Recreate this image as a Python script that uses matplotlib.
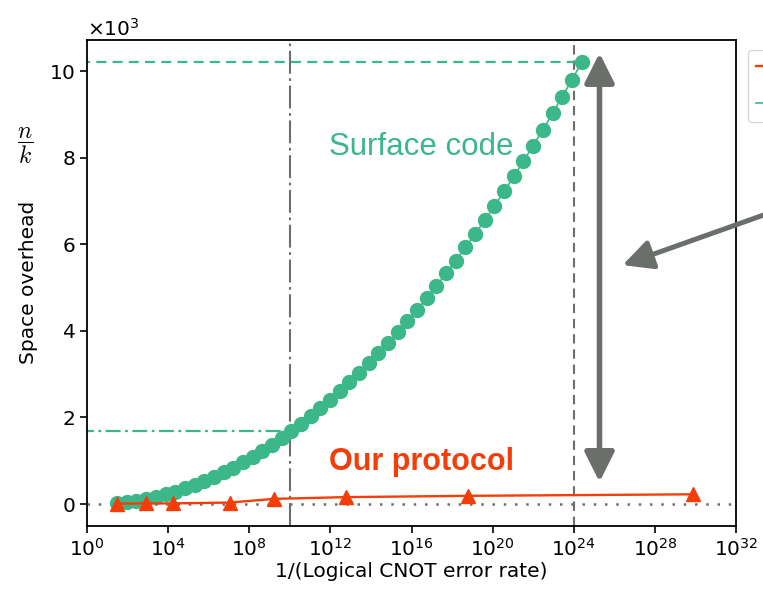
import matplotlib.pyplot as plt
import matplotlib.ticker as mticker
import numpy as np

# surface code: log10(1/error) and n/k
surf_logx = [1.49, 1.97, 2.44, 2.92, 3.40, 3.88, 4.35, 4.83, 5.31, 5.78,
             6.26, 6.74, 7.21, 7.69, 8.17, 8.65, 9.12, 9.60, 10.08, 10.55,
             11.03, 11.51, 11.98, 12.46, 12.94, 13.42, 13.89, 14.37, 14.85, 15.32,
             15.80, 16.28, 16.75, 17.23, 17.71, 18.19, 18.66, 19.14, 19.62, 20.09,
             20.57, 21.05, 21.52, 22.00, 22.48, 22.96, 23.43, 23.91, 24.39]
surf_nk = [25, 49, 81, 121, 169, 225, 289, 361, 441, 529,
           625, 729, 841, 961, 1089, 1225, 1369, 1521, 1681, 1849,
           2025, 2209, 2401, 2601, 2809, 3025, 3249, 3481, 3721, 3969,
           4225, 4489, 4761, 5041, 5329, 5625, 5929, 6241, 6561, 6889,
           7225, 7569, 7921, 8281, 8649, 9025, 9409, 9801, 10201]

# our protocol
ours_logx = [1.49, 2.91, 4.26, 7.05, 9.24, 12.77, 18.80, 29.90]
ours_nk = [10, 15, 15, 35, 120, 160, 190, 225]

green = '#3bb78a'
red = '#f53d0a'
gray = '#6b6f6b'

fig = plt.figure(figsize=(7.63, 5.91), dpi=100)
ax = fig.add_axes([87/763, 1-525.7/591, (736-87)/763, (525.7-40)/591])

sx = 10.0**np.array(surf_logx)
ox = 10.0**np.array(ours_logx)

ax.axhline(0, color=gray, lw=1.8, ls=(0, (1, 3.5)), zorder=1)
ax.axvline(1e24, color=gray, lw=1.5, ls=(0, (4.5, 2.8)), zorder=1)
ax.axvline(1e10, color=gray, lw=1.5, ls=(0, (11, 2.2, 1.3, 2.2)), zorder=1)
ax.plot([1e-5, sx[-1]], [surf_nk[-1], surf_nk[-1]], color=green, lw=1.6,
        ls=(0, (4.5, 2.8)), zorder=1)
ax.plot([1e-5, 1e10], [surf_nk[18], surf_nk[18]], color=green, lw=1.6,
        ls=(0, (6.7, 2, 1.3, 2)), zorder=1)

l_ours, = ax.plot(ox, ours_nk, '-^', color=red, ms=10.5, lw=1.7, zorder=4)
l_surf, = ax.plot(sx, surf_nk, '-o', color=green, ms=10, lw=1.2, zorder=3)

ax.set_xscale('log')
ax.set_xlim(1, 1e32)
ax.set_ylim(-500, 10720)
ax.xaxis.set_major_locator(mticker.FixedLocator([10.0**k for k in range(0, 33, 4)]))
ax.xaxis.set_minor_locator(mticker.NullLocator())
ax.set_yticks([0, 2000, 4000, 6000, 8000, 10000])
fmt = mticker.ScalarFormatter(useMathText=True)
fmt.set_powerlimits((3, 3))
ax.yaxis.set_major_formatter(fmt)
ax.tick_params(labelsize=14.5, width=1.2, length=5)
ax.yaxis.get_offset_text().set_fontsize(14.5)
for s in ax.spines.values():
    s.set_linewidth(1.3)

ax.set_xlabel('1/(Logical CNOT error rate)', fontsize=14.5, labelpad=2)
ax.set_ylabel('Space overhead', fontsize=14.5, labelpad=8)
fig.text(25/763, 1-146/591, r'$\dfrac{n}{k}$', fontsize=17, ha='center', va='center',
         math_fontfamily='cm')

ax.text(10**16.5, 8250, 'Surface code', color=green, fontsize=22.5,
        family='Liberation Sans', ha='center', va='center')
ax.text(10**16.5, 960, 'Our protocol', color=red, fontsize=22, fontweight='bold',
        family='Liberation Sans', ha='center', va='center')

# arrows
ax.annotate('', xy=(10**25.27, 10420), xytext=(10**25.27, 510),
            arrowprops=dict(arrowstyle='<|-|>,head_length=1.0,head_width=0.5',
                            mutation_scale=18, lw=4, color=gray,
                            shrinkA=0, shrinkB=0), zorder=5)
ax.annotate('', xy=(10**26.41, 5520), xytext=(820, 396), textcoords='figure pixels',
            arrowprops=dict(arrowstyle='-|>,head_length=1.0,head_width=0.5',
                            mutation_scale=18, lw=3.6, color=gray,
                            shrinkA=0, shrinkB=0), zorder=5,
            annotation_clip=False)

# legend is cropped in the reference: only the line handles show
fig.legend(handles=[l_ours, l_surf], labels=['', ''], loc='upper left',
           bbox_to_anchor=(748/763, 1-50/591), fontsize=14.5,
           handlelength=2.2, labelspacing=0.9, borderaxespad=0)

fig.savefig('out.png', dpi=100)
